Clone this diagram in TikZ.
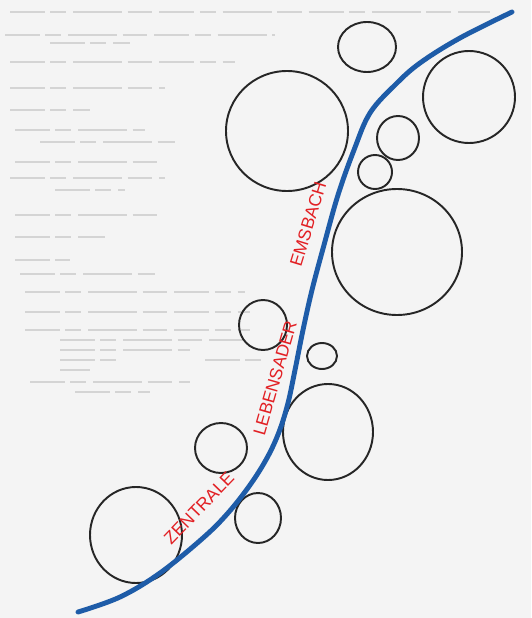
\documentclass[tikz,border=0pt]{standalone}
\usepackage{fontspec}
\setsansfont{Liberation Sans}
\usepackage{tikz}
\definecolor{riverblue}{RGB}{30,92,168}
\definecolor{inkred}{RGB}{226,32,36}
\definecolor{paper}{RGB}{244,244,244}
\definecolor{pencil}{RGB}{212,212,212}

\begin{document}
\begin{tikzpicture}[x=0.02cm, y=-0.02cm,
  bubble/.style={draw=black!85, line width=1.1pt},
  notes/.style={draw=pencil, line width=0.7pt, dash pattern=on 20pt off 3pt on 9pt off 4pt on 28pt off 3pt on 14pt off 4pt},
  inscription/.style={text=inkred, font=\sffamily\fontsize{10}{10}\selectfont, inner sep=0pt}]
  \fill[paper] (0,0) rectangle (531,618);
  \useasboundingbox (0,0) rectangle (531,618);
  % pencil notes
  \foreach \y/\a/\b in {12/10/490, 35/5/275, 43/50/130, 62/10/235, 88/10/165, 110/10/90,
      130/15/145, 142/40/175, 162/15/160, 178/10/165, 190/55/125, 215/15/160, 237/15/105,
      260/15/70, 274/20/155, 292/25/245, 312/25/250, 330/25/250, 340/60/245, 350/60/190,
      360/60/120, 360/205/268, 370/60/90, 382/30/190, 392/75/150}
    \draw[notes] (\a,\y) -- (\b,\y);
  % circles
  \draw[bubble] (367,47) ellipse (29 and 25);
  \draw[bubble] (469,97) ellipse (46 and 46);
  \draw[bubble] (287,131) ellipse (61 and 60);
  \draw[bubble] (398,138) ellipse (21 and 22);
  \draw[bubble] (375,172) ellipse (17 and 17);
  \draw[bubble] (397,252) ellipse (65 and 63);
  \draw[bubble] (263,325) ellipse (24 and 25);
  \draw[bubble] (322,356) ellipse (15 and 13);
  \draw[bubble] (328,432) ellipse (45 and 48);
  \draw[bubble] (221,448) ellipse (26 and 25);
  \draw[bubble] (258,518) ellipse (23 and 25);
  \draw[bubble] (136,535) ellipse (46 and 48);
  % river
  \draw[riverblue, line width=2.8pt, line cap=round] plot[smooth, tension=0.6] coordinates {
    (78,612) (120,597) (160,573) (203,538) (228,513) (250,485) (267,458) (279,432)
    (288,403) (295,370) (303,330) (312,290) (324,245) (338,195) (354,150) (370,113)
    (395,85) (420,63) (460,38) (512,12)};
  \node[inscription, rotate=46] (zentrale) at (199,508) {ZENTRALE};
  \node[inscription, rotate=74] (lebensader) at (275,378) {LEBENSADER};
  \node[inscription, rotate=73] (emsbach) at (308,224) {EMSBACH};
\end{tikzpicture}
\end{document}
